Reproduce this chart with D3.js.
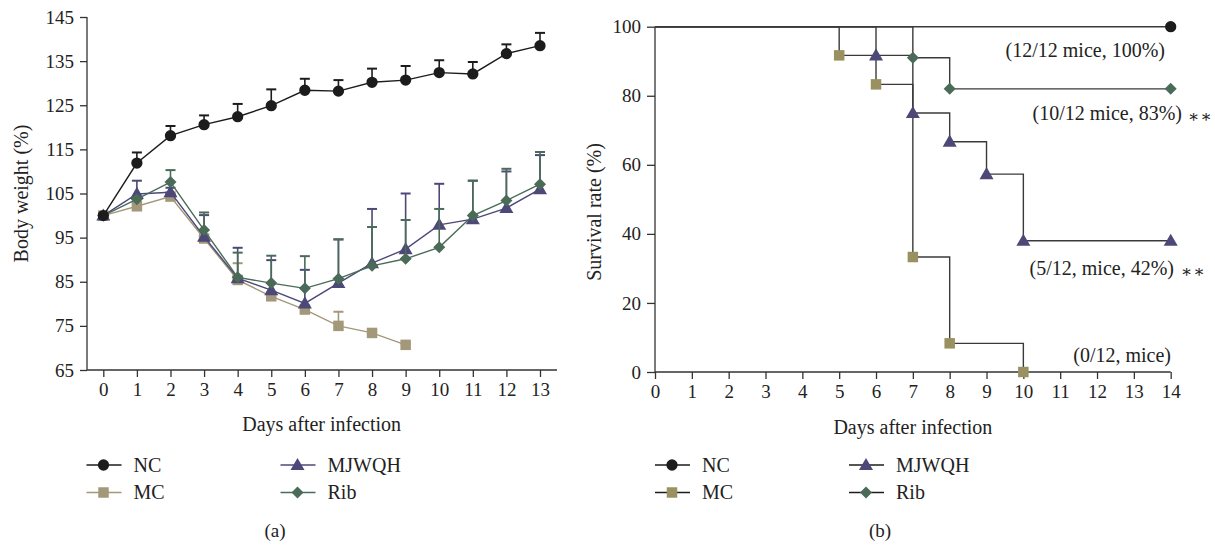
<!DOCTYPE html>
<html>
<head>
<meta charset="utf-8">
<script src="https://cdn.jsdelivr.net/npm/d3@7"></script>
<style>
  body { margin: 0; background: #fff; }
  svg text { font-family: "Liberation Serif", "DejaVu Serif", serif; fill: #222; }
</style>
</head>
<body>
<div id="chart"></div>
<script>
let width = 1215, height = 545;

// ---- (a) body weight data ----
let days = [0, 1, 2, 3, 4, 5, 6, 7, 8, 9, 10, 11, 12, 13];
let weightTicks = [65, 75, 85, 95, 105, 115, 125, 135, 145];

let ncWeight = [100, 111.9, 118.1, 120.6, 122.4, 124.9, 128.4, 128.2, 130.2, 130.7, 132.4, 132.1, 136.7, 138.5];
let ncErr    = [0, 2.4, 2.2, 2.1, 2.9, 3.7, 2.6, 2.5, 3.1, 3.2, 2.8, 2.7, 2.1, 2.9];

let mcWeight = [100, 102.1, 104.3, 94.8, 85.4, 81.7, 78.7, 75.0, 73.4, 70.7];
let mcErr    = [0, 0.6, 0.6, 0.5, 3.8, 0.5, 0.5, 3.2, 0.4, 0.3];

let mjWeight = [100, 104.9, 105.3, 95.2, 85.8, 83.1, 80.1, 84.7, 89.2, 92.4, 97.9, 99.2, 101.7, 106.0];
let mjErr    = [0, 3.0, 1.0, 4.9, 6.9, 6.8, 7.6, 9.9, 12.3, 12.6, 9.3, 8.7, 8.3, 7.7];

let ribWeight = [100, 103.7, 107.6, 96.7, 86.0, 84.7, 83.5, 85.7, 88.6, 90.2, 92.8, 100.0, 103.4, 107.1];
let ribErr    = [0, 0.5, 2.7, 4.0, 5.6, 6.2, 7.3, 8.9, 8.8, 8.8, 8.7, 7.9, 7.2, 7.3];

// ---- (b) survival data ----
let survTicksX = [0, 1, 2, 3, 4, 5, 6, 7, 8, 9, 10, 11, 12, 13, 14];
let survTicksY = [0, 20, 40, 60, 80, 100];

let ncSurvDays = [0, 14];
let ncSurvRate = [100, 100];
let mcSurvDays = [0, 5, 6, 7, 8, 10];
let mcSurvRate = [100, 91.7, 83.3, 33.3, 8.3, 0];
let mjSurvDays = [0, 6, 7, 8, 9, 10, 14];
let mjSurvRate = [100, 91.7, 75, 66.7, 57.3, 38, 38];
let ribSurvDays = [0, 7, 8, 14];
let ribSurvRate = [100, 91, 82, 82];

let groups = ["NC", "MC", "MJWQH", "Rib"];
let annotations = ["(12/12 mice, 100%)", "(10/12 mice, 83%)", "(5/12, mice, 42%)", "(0/12, mice)"];

// colours
let colA = { NC: "#1c1c1c", MC: "#a3987a", MJWQH: "#4c4878", Rib: "#4a6b58" };
let colB = { NC: "#1c1c1c", MC: "#999160", MJWQH: "#4c4878", Rib: "#4a6b58" };
let axisColor = "#333";

let svg = d3.select("#chart").append("svg")
    .attr("width", width)
    .attr("height", height);

// marker shapes
function marker(g, name, x, y, fill) {
    let sym;
    if (name == "NC") sym = d3.symbol(d3.symbolCircle, 100);
    else if (name == "MC") sym = d3.symbol(d3.symbolSquare, 110);
    else if (name == "MJWQH") sym = d3.symbol(d3.symbolTriangle, 85);
    else sym = d3.symbol(d3.symbolSquare, 72);
    let p = g.append("path")
        .attr("d", sym())
        .attr("fill", fill);
    if (name == "Rib") p.attr("transform", `translate(${x},${y}) rotate(45)`);
    else if (name == "MJWQH") p.attr("transform", `translate(${x},${y + 1})`);
    else p.attr("transform", `translate(${x},${y})`);
}

function styleAxis(g) {
    g.selectAll(".domain").remove();
    g.selectAll(".tick line").attr("stroke", axisColor).attr("stroke-width", 1.3);
    g.selectAll(".tick text").style("font-size", "19px").attr("fill", "#222");
}

// ================= (a) =================
let xA = d3.scaleLinear().domain([0, 13]).range([103.3, 540]);
let yA = d3.scaleLinear().domain([65, 145]).range([370, 17]);

let gA = svg.append("g");

gA.append("g")
    .attr("transform", "translate(0,370)")
    .call(d3.axisBottom(xA).tickValues(days).tickSize(7).tickPadding(6).tickFormat(d3.format("d")))
    .call(styleAxis);
gA.append("g")
    .attr("transform", "translate(87,0)")
    .call(d3.axisLeft(yA).tickValues(weightTicks).tickSize(7).tickPadding(6))
    .call(styleAxis);
gA.append("line").attr("x1", 87).attr("x2", 557).attr("y1", 370).attr("y2", 370)
    .attr("stroke", axisColor).attr("stroke-width", 1.3);
gA.append("line").attr("x1", 87).attr("x2", 87).attr("y1", 17).attr("y2", 370)
    .attr("stroke", axisColor).attr("stroke-width", 1.3);

gA.append("text").attr("x", xA(6.5)).attr("y", 431).attr("text-anchor", "middle")
    .style("font-size", "20px").text("Days after infection");
gA.append("text").attr("transform", `translate(28,${(17 + 370) / 2}) rotate(-90)`)
    .attr("text-anchor", "middle").style("font-size", "20px").text("Body weight (%)");

let weightSeries = [
    { name: "MC", vals: mcWeight, err: mcErr },
    { name: "MJWQH", vals: mjWeight, err: mjErr },
    { name: "Rib", vals: ribWeight, err: ribErr },
    { name: "NC", vals: ncWeight, err: ncErr }
];

let lineA = d3.line().x((d, i) => xA(i)).y(d => yA(d));

weightSeries.forEach(s => {
    let g = gA.append("g");
    let c = colA[s.name];
    // upper error bars
    s.vals.forEach((v, i) => {
        if (!s.err[i]) return;
        let top = yA(v + s.err[i]);
        g.append("line").attr("x1", xA(i)).attr("x2", xA(i)).attr("y1", yA(v)).attr("y2", top)
            .attr("stroke", c).attr("stroke-width", 1.6);
        g.append("line").attr("x1", xA(i) - 5).attr("x2", xA(i) + 5).attr("y1", top).attr("y2", top)
            .attr("stroke", c).attr("stroke-width", 2);
    });
    g.append("path").datum(s.vals)
        .attr("d", lineA)
        .attr("fill", "none")
        .attr("stroke", c)
        .attr("stroke-width", 1.4);
    s.vals.forEach((v, i) => marker(g, s.name, xA(i), yA(v), c));
});

// ================= (b) =================
let xB = d3.scaleLinear().domain([0, 14]).range([655, 1170.7]);
let yB = d3.scaleLinear().domain([0, 100]).range([372, 26.7]);

let gB = svg.append("g");

gB.append("g")
    .attr("transform", "translate(0,372)")
    .call(d3.axisBottom(xB).tickValues(survTicksX).tickSize(7).tickPadding(6).tickFormat(d3.format("d")))
    .call(styleAxis);
gB.append("g")
    .attr("transform", "translate(655,0)")
    .call(d3.axisLeft(yB).tickValues(survTicksY).tickSize(8).tickPadding(6))
    .call(styleAxis);
gB.append("line").attr("x1", 655).attr("x2", xB(14)).attr("y1", 372).attr("y2", 372)
    .attr("stroke", axisColor).attr("stroke-width", 1.3);
gB.append("line").attr("x1", 655).attr("x2", 655).attr("y1", yB(100)).attr("y2", 372)
    .attr("stroke", axisColor).attr("stroke-width", 1.3);

gB.append("text").attr("x", xB(7)).attr("y", 434).attr("text-anchor", "middle")
    .style("font-size", "20px").text("Days after infection");
gB.append("text").attr("transform", "translate(601,212) rotate(-90)")
    .attr("text-anchor", "middle").style("font-size", "20px").text("Survival rate (%)");

let survSeries = [
    { name: "NC", days: ncSurvDays, rate: ncSurvRate },
    { name: "MC", days: mcSurvDays, rate: mcSurvRate },
    { name: "MJWQH", days: mjSurvDays, rate: mjSurvRate },
    { name: "Rib", days: ribSurvDays, rate: ribSurvRate }
];

let lineB = d3.line().curve(d3.curveStepAfter).x(d => xB(d[0])).y(d => yB(d[1]));

survSeries.forEach(s => {
    let pts = s.days.map((d, i) => [d, s.rate[i]]);
    gB.append("path").datum(pts)
        .attr("d", lineB)
        .attr("fill", "none")
        .attr("stroke", "#3a3a3a")
        .attr("stroke-width", 1.4);
});
survSeries.forEach(s => {
    s.days.forEach((d, i) => {
        if (d == 0) return;
        marker(gB, s.name, xB(d), yB(s.rate[i]), colB[s.name]);
    });
});

// annotations
let annX = [1165, 1182, 1174, 1171];
let annY = [57, 120, 275, 362];
annotations.forEach((t, i) => {
    gB.append("text").attr("x", annX[i]).attr("y", annY[i]).attr("text-anchor", "end")
        .style("font-size", "20px").text(t);
});
// significance marks
gB.append("text").attr("x", 1188).attr("y", annY[1] + 2).style("font-size", "17px")
    .attr("letter-spacing", "1px").text("∗∗");
gB.append("text").attr("x", 1181).attr("y", annY[2] + 2).style("font-size", "17px")
    .attr("letter-spacing", "1px").text("∗∗");

// ================= legends =================
function legend(x0, y0, colMap, lineColor) {
    let g = svg.append("g");
    let pos = [[0, 0], [0, 27.5], [194, 0], [194, 27.5]];
    groups.forEach((name, i) => {
        let x = x0 + pos[i][0], y = y0 + pos[i][1];
        g.append("line").attr("x1", x).attr("x2", x + 35).attr("y1", y).attr("y2", y)
            .attr("stroke", lineColor ? lineColor : colMap[name]).attr("stroke-width", 1.6);
        marker(g, name, x + 17, y, colMap[name]);
        g.append("text").attr("x", x + 47).attr("y", y + 6.5)
            .style("font-size", "20px").text(name);
    });
}
legend(86.5, 465, colA, null);
legend(655, 465, colB, "#1c1c1c");

svg.append("text").attr("x", 275).attr("y", 537).attr("text-anchor", "middle")
    .style("font-size", "19px").text("(a)");
svg.append("text").attr("x", 880).attr("y", 537).attr("text-anchor", "middle")
    .style("font-size", "19px").text("(b)");
</script>
</body>
</html>
